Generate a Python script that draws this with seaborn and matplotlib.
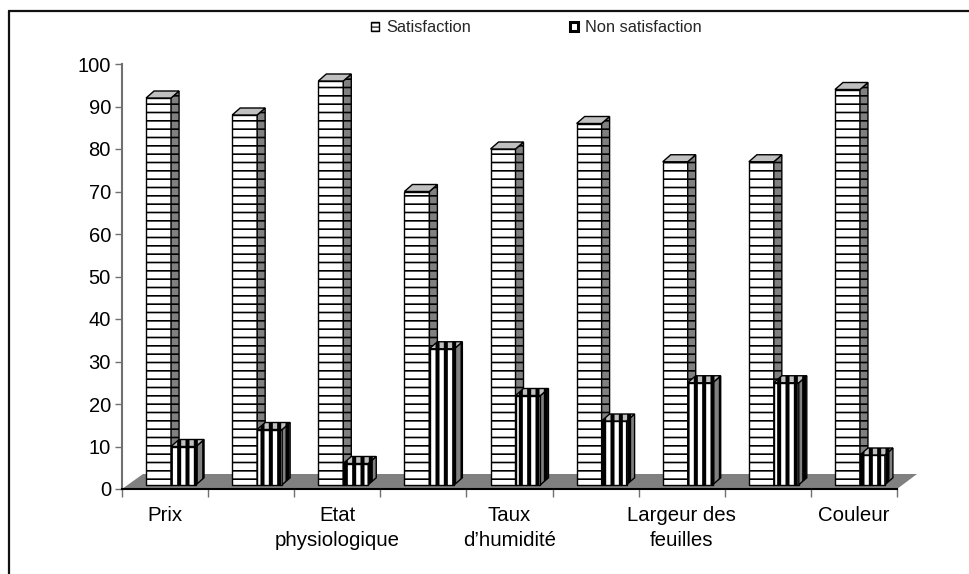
import numpy as np
import pandas as pd
import matplotlib
matplotlib.use("Agg")
import matplotlib.pyplot as plt
import seaborn as sns
from matplotlib.lines import Line2D
from matplotlib.patches import Polygon

groupes = list(range(9))
tick_labels = ["Prix", "", "Etat\nphysiologique", "", "Taux\nd’humidité", "",
               "Largeur des\nfeuilles", "", "Couleur"]
satisfaction = [92, 88, 96, 70, 80, 86, 77, 77, 94]
non_satisfaction = [10, 14, 6, 33, 22, 16, 25, 25, 8]
y_ticks = list(range(0, 101, 10))

sns.set_theme(style="white")
plt.rcParams['font.family'] = ['Liberation Sans', 'DejaVu Sans']
plt.rcParams['hatch.color'] = 'black'
plt.rcParams['hatch.linewidth'] = 1.2

W, H = 969, 574
fig = plt.figure(figsize=(W / 100, H / 100), dpi=100)
ax = fig.add_axes([122 / W, 1 - 489 / H, 775 / W, 425 / H])
ax.patch.set_alpha(0)

df = pd.DataFrame({
    "groupe": groupes * 2,
    "serie": ["Satisfaction"] * 9 + ["Non satisfaction"] * 9,
    "valeur": satisfaction + non_satisfaction,
})
sns.barplot(data=df, x="groupe", y="valeur", hue="serie", width=0.58, gap=0,
            palette=["white", "white"], edgecolor="black", linewidth=1, ax=ax, zorder=3)
ax.set_xlim(-0.5, 8.5)
ax.set_ylim(0, 100)

# pseudo 3D : depth in data units
px_x = 9 / 775
px_y = 100 / 425
dx, dy = 8 * px_x, 7 * px_y
shift = 6 * px_x

# floor of the chart
floor = Polygon([(-0.5, 0), (8.5, 0), (8.5 + 20 * px_x, 15 * px_y), (-0.5 + 21 * px_x, 15 * px_y)],
                closed=True, facecolor="#808080", edgecolor="none", clip_on=False, zorder=1)
ax.add_patch(floor)

hatches = ["--", "||"]
hatch_lw = [1.2, 2.9]
side_colors = ["#808080", "#808080"]
for k, cont in enumerate(ax.containers):
    z = 3 + k
    plt.rcParams['hatch.linewidth'] = hatch_lw[k]
    for bar in cont:
        top = bar.get_height()
        # bars stand a bit behind the axis line
        bar.set_x(bar.get_x() + shift)
        bar.set_y(1)
        bar.set_height(top - 1)
        bar.set_hatch(hatches[k])
        bar._hatch_linewidth = hatch_lw[k]
        bar.set_zorder(z)
        x0, x1 = bar.get_x(), bar.get_x() + bar.get_width()
        side = Polygon([(x1, 1), (x1 + dx, 1 + dy), (x1 + dx, top + dy), (x1, top)],
                       closed=True, facecolor=side_colors[k], edgecolor="black", lw=1,
                       hatch=hatches[k], zorder=z, clip_on=False)
        lid = Polygon([(x0, top), (x0 + dx, top + dy), (x1 + dx, top + dy), (x1, top)],
                      closed=True, facecolor="#c0c0c0", edgecolor="black", lw=1,
                      hatch=None if k == 0 else "||", zorder=z, clip_on=False)
        ax.add_patch(side)
        ax.add_patch(lid)

# axes
sns.despine(ax=ax)
ax.spines["left"].set_color("#707070")
ax.spines["left"].set_linewidth(1.5)
ax.spines["bottom"].set_color("black")
ax.spines["bottom"].set_linewidth(1.5)
ax.spines["bottom"].set_zorder(6)
ax.set_xlabel("")
ax.set_ylabel("")
ax.set_yticks(y_ticks)
ax.tick_params(axis="y", left=True, length=5, width=1, color="#707070", labelsize=14.5,
               labelcolor="black", pad=3)
ax.set_xticks(np.arange(-0.5, 9, 1))
ax.set_xticklabels([])
ax.tick_params(axis="x", which="major", bottom=True, length=5.5, width=1, color="#707070")
ax.set_xticks(groupes, minor=True)
ax.set_xticklabels(tick_labels, minor=True, fontsize=14.7, color="black", linespacing=1.4)
ax.tick_params(axis="x", which="minor", bottom=False, length=0, pad=12)

leg = ax.legend(loc="center left", bbox_to_anchor=(356 / W, 1 - 28 / H),
                bbox_transform=fig.transFigure, ncol=2, frameon=False, fontsize=11.8,
                handlelength=0.5, handleheight=0.5, handletextpad=0.45,
                columnspacing=6.0, title=None)
for h, lw, ht in zip(leg.legend_handles, [1, 2.2], ["----", None]):
    h.set_linewidth(lw)
    h.set_hatch(ht)
    h._hatch_linewidth = 0.8

# frame around the picture, open on the right and at the bottom
fig.add_artist(Line2D([9 / W, 9 / W], [0, 1 - 10.5 / H], color="#111111", lw=1.6))
fig.add_artist(Line2D([9 / W, 1], [1 - 10.5 / H, 1 - 10.5 / H], color="#111111", lw=1.6))

fig.savefig("out.png", dpi=100)
